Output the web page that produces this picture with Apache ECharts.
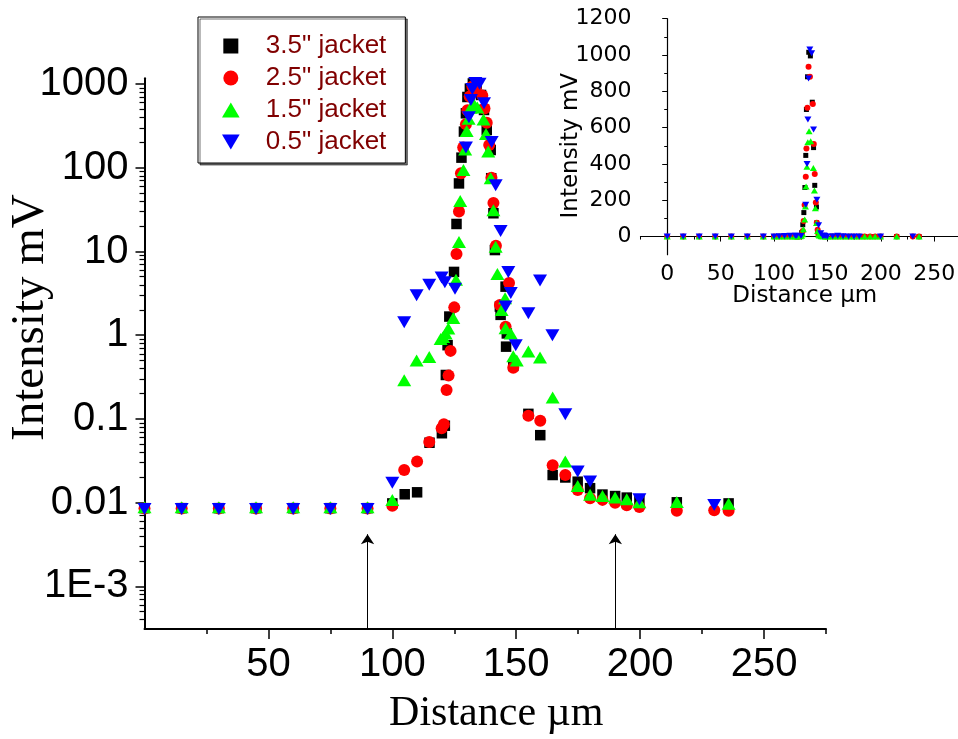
<!DOCTYPE html>
<html><head><meta charset="utf-8">
<script src="https://cdn.jsdelivr.net/npm/echarts@6/dist/echarts.min.js"></script>
<style>html,body{margin:0;padding:0;background:#fff}#c{width:958px;height:739px}</style>
</head><body><div id="c"></div>
<script>
// ---------- data (Distance µm, Intensity mV) ----------
const seriesNames = ['3.5" jacket', '2.5" jacket', '1.5" jacket', '0.5" jacket'];

const jacket35 = [[0,0.0086],[15,0.0086],[30,0.0086],[45,0.0086],[60,0.0086],[75,0.0086],[90,0.0086],
 [100,0.0098],[105,0.0126],[110,0.0133],[115,0.052],[120,0.0675],[121.2,0.083],[121.6,0.335],[122.3,0.76],[123,1.67],
 [124.9,5.7],[125.9,21.3],[126.9,65],[127.9,132],[128.9,270],[129.7,447],[130.3,700],[131.3,880],[132.5,1015],[134,995],
 [135.8,740],[137,490],[138.1,282],[139.7,163],[139.9,75],[140.8,28.6],[141.4,10.4],[143.4,2.2],[143.7,1.75],[145.7,3.8],
 [145.9,0.73],[146.2,1.05],[148.8,0.43],[154.9,0.115],[159.7,0.064],[164.7,0.0214],[169.8,0.020],[174.8,0.0178],
 [179.8,0.0149],[184.8,0.0125],[189.9,0.012],[194.6,0.0115],[199.7,0.0108],[214.8,0.0101],[235.7,0.0098]];

const jacket25 = [[0,0.0085],[15,0.0085],[30,0.0085],[45,0.0085],[60,0.0085],[75,0.0085],[90,0.0085],
 [100,0.0092],[104.8,0.0246],[110,0.031],[114.9,0.053],[119.9,0.0775],[120.8,0.0865],[121.9,0.222],[122.7,0.33],[123.5,0.65],
 [125,2.15],[125.9,9.3],[126.9,30],[127.7,86],[128.6,174],[129.7,330],[130.3,485],[131.2,710],[132.3,935],[133.6,880],
 [136.3,730],[137.2,510],[138.1,345],[139.1,187],[140,76],[140.8,38],[141.8,11.7],[143.4,2.3],[145.7,1.26],[147.1,4.2],
 [148.8,0.41],[154.9,0.109],[159.7,0.095],[164.7,0.028],[169.8,0.0214],[174.8,0.0142],[179.8,0.0113],[184.8,0.0108],
 [189.9,0.0100],[194.6,0.0093],[199.7,0.0089],[214.8,0.0080],[229.9,0.0081],[235.7,0.0080]];

const jacket15 = [[0,0.0088],[15,0.0088],[30,0.0088],[45,0.0088],[60,0.0088],[75,0.0088],[90,0.0088],
 [100,0.0108],[104.8,0.29],[109.8,0.5],[114.9,0.55],[119.5,0.9],[120.5,0.95],[121.5,1.05],[122.6,1.2],[124.6,1.6],
 [125.7,4.6],[126.9,13],[127.4,40],[128.7,94],[129.4,165],[130,275],[130.8,385],[131.6,520],[132.8,580],[134.3,525],
 [136.8,378],[137.8,253],[138.7,156],[139.7,75],[140.8,31],[141.7,11.4],[142.4,5.4],[144.1,2.0],[145.5,2.76],[145.7,1.21],
 [147.8,1.05],[148.8,0.56],[150.2,0.5],[154.9,0.64],[159.6,0.54],[164.7,0.18],[169.8,0.031],[174.8,0.0158],[179.8,0.0124],
 [184.8,0.012],[189.9,0.0115],[194.6,0.011],[199.7,0.0101],[214.8,0.0102],[235.7,0.0097]];

const jacket05 = [[0,0.0084],[15,0.0084],[30,0.0084],[45,0.0084],[60,0.0084],[75,0.0084],[90,0.0084],
 [100,0.0173],[104.8,1.43],[109.8,3.0],[114.9,4.0],[119.9,4.9],[121.2,4.3],[125.3,3.6],[129.7,175],[130.9,400],
 [131.7,645],[132.3,870],[133.5,1030],[135.2,1010],[137,590],[140.1,203],[141.7,62],[143.7,17.6],[145.7,2.2],[146.8,5.7],
 [147.8,3.2],[149.8,0.76],[154.9,1.83],[159.6,4.5],[164.6,1.0],[169.8,0.114],[174.8,0.0235],[179.8,0.0179],
 [199.7,0.011],[229.9,0.0094]];

// ---------- ticks ----------
const mainXLabels = [50, 100, 150, 200, 250];
const mainXMinor = [25, 75, 125, 175, 225, 275];
const mainYTicks = [0.001, 0.01, 0.1, 1, 10, 100, 1000];
const mainYTickLabels = ['1E-3', '0.01', '0.1', '1', '10', '100', '1000'];
const logMultipliers = [2, 3, 4, 5, 6, 7, 8, 9];
const insetXTicks = [0, 50, 100, 150, 200, 250];
const insetXMinor = [-25, 25, 75, 125, 175, 225, 275];
const insetYTicks = [0, 200, 400, 600, 800, 1000, 1200];
const insetYMinor = [100, 300, 500, 700, 900, 1100];
const arrowX = [90, 190];
const arrowTop = 0.0042;

const mainYMin = 3.1e-4, mainYMax = 1170;
const mainYMinor = [];
[-4, -3, -2, -1, 0, 1, 2].forEach(e => logMultipliers.forEach(m => {
  const v = m * Math.pow(10, e);
  if (v > mainYMin && v < mainYMax) mainYMinor.push(+v.toPrecision(3));
}));

const colors = ['#000000', '#ff0000', '#00ff00', '#0000ff'];
const symbols = ['path://M0,0L10,0L10,10L0,10Z', 'circle', 'path://M10,0L20,17L0,17Z', 'path://M0,0L20,0L10,17Z'];
const mainSizes = [10.5, 12, [14, 12], [14, 12]];
const insetSizes = [5, 6, [7, 6], [7, 6]];
const datasets = [jacket35, jacket25, jacket15, jacket05];

const SANS = 'Liberation Sans', SERIF = 'Liberation Serif', INS = 'DejaVu Sans';

function yLabel(v) {
  let best = 0, d = Infinity;
  mainYTicks.forEach((t, i) => { const dd = Math.abs(Math.log10(v) - Math.log10(t)); if (dd < d) { d = dd; best = i; } });
  return d < 1e-6 ? mainYTickLabels[best] : '';
}
const plain = v => String(Math.round(v));

const axisBase = { splitLine: { show: false }, axisPointer: { show: false }, nameMoveOverlap: false };

const chart = echarts.init(document.getElementById('c'));
const series = [];
datasets.forEach((d, i) => {
  const s = {
    name: seriesNames[i], type: 'scatter', data: d, xAxisIndex: 0, yAxisIndex: 0,
    symbol: symbols[i], symbolSize: mainSizes[i], itemStyle: { color: colors[i], opacity: 1 },
    z: 3 + i, silent: true, emphasis: { disabled: true }
  };
  if (i === 0) {
    s.markLine = {
      silent: true, symbol: ['none', 'arrow'], symbolSize: 10, label: { show: false },
      lineStyle: { color: '#000', width: 1, type: 'solid' }, emphasis: { disabled: true },
      data: arrowX.map(x => [{ coord: [x, mainYMin] }, { coord: [x, arrowTop] }])
    };
  }
  series.push(s);
});
datasets.forEach((d, i) => {
  series.push({
    name: seriesNames[i], type: 'scatter', data: d, xAxisIndex: 2, yAxisIndex: 2,
    symbol: symbols[i], symbolSize: insetSizes[i], itemStyle: { color: colors[i], opacity: 1 },
    z: 3 + i, silent: true, emphasis: { disabled: true }
  });
});

chart.setOption({
  animation: false,
  backgroundColor: '#fff',
  grid: [
    { left: 144.5, top: 78.3, right: 132, bottom: 110, containLabel: false, outerBoundsMode: 'none' },
    { left: 640.5, top: 18.7, width: 320.5, height: 236, containLabel: false, outerBoundsMode: 'none' }
  ],
  legend: {
    data: seriesNames, orient: 'vertical', left: 198, top: 17,
    padding: [16, 19, 8, 24], itemGap: 6, itemWidth: 60, itemHeight: 15, symbolKeepAspect: true,
    backgroundColor: '#fff', borderColor: '#000', borderWidth: 1,
    shadowColor: 'rgba(0,0,0,0.55)', shadowOffsetX: 2, shadowOffsetY: 2, shadowBlur: 0,
    textStyle: { color: '#800000', fontSize: 26, fontFamily: SANS },
    selectedMode: false, z: 20
  },
  xAxis: [
    Object.assign({}, axisBase, {
      type: 'value', gridIndex: 0, min: 0, max: 275, position: 'bottom',
      name: 'Distance µm', nameLocation: 'middle', nameGap: 64,
      nameTextStyle: { fontFamily: SERIF, fontSize: 42, color: '#000', padding: [0, 0, 0, 22] },
      axisLine: { show: true, lineStyle: { color: '#000', width: 2 } },
      axisTick: { show: true, inside: false, length: 10, lineStyle: { color: '#000', width: 1.5 }, customValues: mainXLabels },
      axisLabel: { show: true, margin: 16, fontFamily: SANS, fontSize: 40, color: '#000', customValues: mainXLabels, formatter: plain }
    }),
    Object.assign({}, axisBase, {
      type: 'value', gridIndex: 0, min: 0, max: 275, position: 'bottom',
      axisLine: { show: false },
      axisTick: { show: true, length: 5, lineStyle: { color: '#000', width: 1.5 }, customValues: mainXMinor },
      axisLabel: { show: false }
    }),
    Object.assign({}, axisBase, {
      type: 'value', gridIndex: 1, min: -25, max: 275, position: 'bottom',
      name: 'Distance µm', nameLocation: 'middle', nameGap: 30,
      nameTextStyle: { fontFamily: INS, fontSize: 23, color: '#000', padding: [0, 0, 0, 8] },
      axisLine: { show: true, lineStyle: { color: '#000', width: 1.2 } },
      axisTick: { show: true, length: 5, lineStyle: { color: '#000', width: 1 }, customValues: insetXTicks },
      axisLabel: { show: true, margin: 9, fontFamily: INS, fontSize: 22, color: '#000', customValues: insetXTicks, formatter: plain }
    }),
    Object.assign({}, axisBase, {
      type: 'value', gridIndex: 1, min: -25, max: 275, position: 'bottom',
      axisLine: { show: false },
      axisTick: { show: true, length: 3, lineStyle: { color: '#000', width: 1 }, customValues: insetXMinor },
      axisLabel: { show: false }
    })
  ],
  yAxis: [
    Object.assign({}, axisBase, {
      type: 'log', logBase: 10, gridIndex: 0, min: mainYMin, max: mainYMax, position: 'left',
      name: 'Intensity mV', nameLocation: 'middle', nameGap: 90, nameRotate: 90,
      nameTextStyle: { fontFamily: SERIF, fontSize: 47, color: '#000', padding: [0, 0, 0, 72] },
      axisLine: { show: true, lineStyle: { color: '#000', width: 2 } },
      axisTick: { show: true, length: 9, lineStyle: { color: '#000', width: 1.5 }, customValues: mainYTicks },
      axisLabel: { show: true, margin: 16, fontFamily: SANS, fontSize: 40, color: '#000', customValues: mainYTicks, formatter: yLabel }
    }),
    Object.assign({}, axisBase, {
      type: 'log', logBase: 10, gridIndex: 0, min: mainYMin, max: mainYMax, position: 'left',
      axisLine: { show: false },
      axisTick: { show: true, length: 5, lineStyle: { color: '#000', width: 1.2 }, customValues: mainYMinor },
      axisLabel: { show: false }
    }),
    Object.assign({}, axisBase, {
      type: 'value', gridIndex: 1, min: -100, max: 1200, position: 'left',
      name: 'Intensity mV', nameLocation: 'middle', nameGap: 58, nameRotate: 90,
      nameTextStyle: { fontFamily: INS, fontSize: 23, color: '#000', padding: [0, 18, 0, 0] },
      axisLine: { show: true, lineStyle: { color: '#000', width: 1.2 } },
      axisTick: { show: true, length: 5, lineStyle: { color: '#000', width: 1 }, customValues: insetYTicks },
      axisLabel: { show: true, margin: 9, fontFamily: INS, fontSize: 22, color: '#000', customValues: insetYTicks, formatter: plain }
    }),
    Object.assign({}, axisBase, {
      type: 'value', gridIndex: 1, min: -100, max: 1200, position: 'left',
      axisLine: { show: false },
      axisTick: { show: true, length: 3, lineStyle: { color: '#000', width: 1 }, customValues: insetYMinor },
      axisLabel: { show: false }
    })
  ],
  series: series
});
</script></body></html>
